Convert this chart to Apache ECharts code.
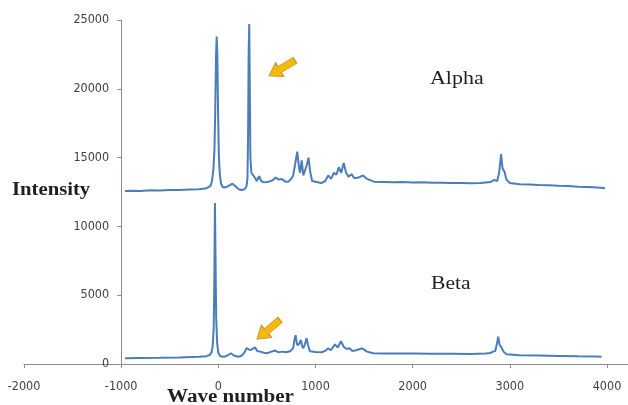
<!DOCTYPE html>
<html>
<head>
<meta charset="utf-8">
<style>
  html, body { margin: 0; padding: 0; background: #fff; }
  #chart { width: 628px; height: 405px; }
</style>
<script src="https://cdn.jsdelivr.net/npm/echarts@6/dist/echarts.min.js"></script>
</head>
<body>
<div id="chart"></div>
<script>
// Axis ticks
var xTicks = [-2000, -1000, 0, 1000, 2000, 3000, 4000];
var yTicks = [0, 5000, 10000, 15000, 20000, 25000];

// Alpha spectrum: wave number / intensity
var alphaWave = [-960, -900, -800, -700, -600, -500, -400, -300, -200, -120, -100, -80, -65, -50, -40, -32, -24, -17, -10, -2, 6, 15, 28, 45, 80, 120, 145, 170, 210, 240, 270, 290, 300, 306, 312, 318, 324, 330, 340, 360, 380, 395, 420, 440, 470, 520, 560, 590, 620, 650, 690, 720, 750, 770, 790, 812, 830, 842, 858, 875, 895, 912, 928, 945, 965, 1000, 1060, 1100, 1131, 1160, 1190, 1215, 1240, 1265, 1290, 1315, 1340, 1370, 1400, 1440, 1490, 1530, 1600, 1700, 1800, 1900, 2000, 2100, 2200, 2300, 2400, 2500, 2600, 2700, 2800, 2840, 2870, 2890, 2910, 2925, 2945, 2965, 3000, 3100, 3200, 3300, 3400, 3500, 3600, 3700, 3800, 3900, 3980];
var alphaIntensity = [12570, 12590, 12580, 12620, 12610, 12650, 12640, 12690, 12700, 12780, 12820, 12950, 13300, 14200, 15600, 18300, 22300, 23800, 22400, 18000, 15000, 13800, 13100, 12850, 12850, 13000, 13100, 12950, 12700, 12650, 12700, 12900, 13500, 16500, 22500, 24700, 20000, 15000, 13900, 13700, 13500, 13300, 13650, 13300, 13200, 13250, 13350, 13550, 13400, 13450, 13250, 13250, 13450, 13700, 14500, 15430, 14300, 13900, 14800, 13700, 13600, 14500, 15000, 14000, 13300, 13250, 13150, 13300, 13700, 13450, 13900, 13750, 14300, 13900, 14600, 13900, 13600, 13800, 13500, 13550, 13700, 13450, 13250, 13230, 13210, 13220, 13190, 13200, 13170, 13180, 13150, 13160, 13130, 13150, 13220, 13380, 13300, 13900, 15260, 14200, 13980, 13400, 13150, 13060, 13040, 13000, 12990, 12950, 12940, 12890, 12870, 12820, 12770];

// Beta spectrum: wave number / intensity
var betaWave = [-960, -800, -600, -400, -200, -120, -90, -70, -58, -48, -41, -35, -29, -22, -12, 0, 20, 60, 100, 130, 160, 205, 240, 270, 290, 308, 330, 350, 377, 400, 430, 470, 500, 540, 582, 620, 660, 700, 743, 770, 782, 795, 808, 816, 835, 850, 862, 874, 890, 908, 922, 942, 1000, 1063, 1100, 1131, 1160, 1200, 1230, 1261, 1290, 1320, 1350, 1380, 1420, 1480, 1530, 1593, 1700, 1800, 1900, 2000, 2200, 2400, 2600, 2750, 2800, 2828, 2850, 2868, 2880, 2895, 2914, 2935, 2966, 3100, 3300, 3500, 3700, 3900, 3943];
var betaIntensity = [410, 430, 450, 480, 520, 570, 650, 850, 1300, 2600, 6000, 11700, 7800, 3300, 1500, 800, 560, 520, 650, 780, 620, 530, 600, 850, 1150, 1260, 1000, 1000, 1210, 950, 900, 820, 780, 880, 980, 850, 900, 850, 950, 1150, 1700, 2100, 1500, 1350, 1500, 1750, 1300, 1150, 1400, 1870, 1400, 920, 880, 850, 950, 1140, 1000, 1430, 1200, 1650, 1250, 1100, 1150, 950, 1000, 1140, 900, 775, 760, 770, 760, 760, 750, 740, 730, 760, 800, 900, 950, 1500, 1985, 1400, 1210, 900, 700, 640, 620, 590, 560, 540, 530];

function pairs(xs, ys) {
  return xs.map(function (x, i) { return [x, ys[i]]; });
}

var W = 628, H = 405;
var grid = { left: 24, right: 21, top: 20, bottom: 41 };
var gridWidth = W - grid.left - grid.right;
var xMin = xTicks[0], xMax = xTicks[xTicks.length - 1];
// y axis crosses the x axis at -1000
var yAxisAt = -1000;
var yAxisOffset = -gridWidth * (yAxisAt - xMin) / (xMax - xMin);

var lineColor = '#4A7DBA';
var axisColor = '#8C8C8C';
var labelColor = '#404040';
var tickFont = "'DejaVu Sans Condensed', 'Liberation Sans', sans-serif";
var serif = "'Liberation Serif', 'DejaVu Serif', serif";

var arrowPath = 'path://M0,4 L13,4 L13,0 L22,7 L13,14 L13,10 L0,10 Z';
var arrowStyle = { color: '#F5B80C', borderColor: '#C29A33', borderWidth: 1 };

function plain(v) { return String(v); }

var chart = echarts.init(document.getElementById('chart'), null, { renderer: 'canvas' });
chart.setOption({
  animation: false,
  backgroundColor: '#ffffff',
  grid: grid,
  xAxis: {
    type: 'value',
    min: xMin,
    max: xMax,
    interval: 1000,
    axisLine: { show: true, onZero: false, lineStyle: { color: axisColor, width: 1 } },
    axisTick: { show: true, inside: false, length: 4, lineStyle: { color: axisColor } },
    axisLabel: { margin: 16, fontFamily: tickFont, fontSize: 12.5, color: labelColor, formatter: plain },
    splitLine: { show: false }
  },
  yAxis: {
    type: 'value',
    min: yTicks[0],
    max: yTicks[yTicks.length - 1],
    interval: 5000,
    offset: yAxisOffset,
    axisLine: { show: true, onZero: false, lineStyle: { color: axisColor, width: 1 } },
    axisTick: { show: true, inside: false, length: 4, lineStyle: { color: axisColor } },
    axisLabel: { margin: 12, fontFamily: tickFont, fontSize: 12.5, color: labelColor, formatter: plain },
    splitLine: { show: false }
  },
  series: [
    {
      name: 'Alpha',
      type: 'line',
      data: pairs(alphaWave, alphaIntensity),
      showSymbol: false,
      lineStyle: { color: lineColor, width: 2 },
      itemStyle: { color: lineColor },
      markPoint: {
        label: { show: false },
        data: [{ coord: [655, 21500], symbol: arrowPath, symbolSize: [30, 16], symbolRotate: 211, itemStyle: arrowStyle }]
      }
    },
    {
      name: 'Beta',
      type: 'line',
      data: pairs(betaWave, betaIntensity),
      showSymbol: false,
      lineStyle: { color: lineColor, width: 2 },
      itemStyle: { color: lineColor },
      markPoint: {
        label: { show: false },
        data: [{ coord: [516, 2500], symbol: arrowPath, symbolSize: [30, 16], symbolRotate: 220, itemStyle: arrowStyle }]
      }
    }
  ],
  graphic: [
    // x axis line runs on past the last tick to the right edge
    { type: 'line', shape: { x1: W - grid.right, y1: H - grid.bottom + 0.5, x2: W, y2: H - grid.bottom + 0.5 }, style: { stroke: axisColor, lineWidth: 1 } },
    { type: 'text', x: 12, y: 190, scaleX: 1.15, style: { text: 'Intensity', font: 'bold 18px ' + serif, fill: '#1f1f1f', textAlign: 'left', textVerticalAlign: 'middle' } },
    { type: 'text', x: 167, y: 397, scaleX: 1.17, style: { text: 'Wave number', font: 'bold 18px ' + serif, fill: '#1f1f1f', textAlign: 'left', textVerticalAlign: 'middle' } },
    { type: 'text', x: 430, y: 79, scaleX: 1.22, style: { text: 'Alpha', font: '18px ' + serif, fill: '#1f1f1f', textAlign: 'left', textVerticalAlign: 'middle' } },
    { type: 'text', x: 431, y: 284, scaleX: 1.2, style: { text: 'Beta', font: '18px ' + serif, fill: '#1f1f1f', textAlign: 'left', textVerticalAlign: 'middle' } }
  ]
});
</script>
</body>
</html>
